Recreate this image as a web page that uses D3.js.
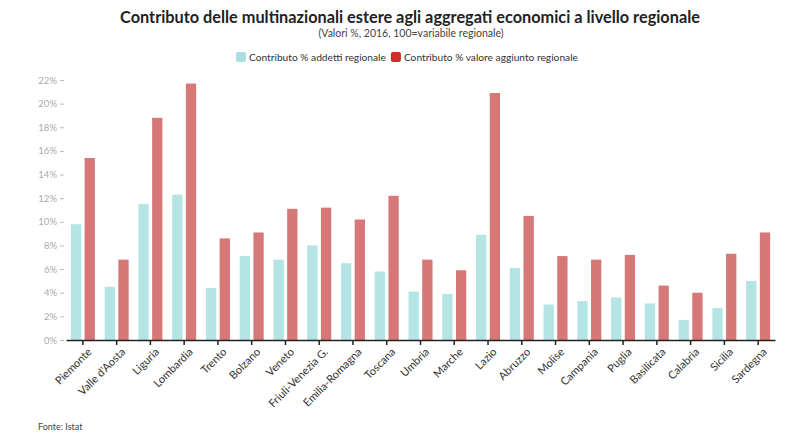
<!DOCTYPE html>
<html><head><meta charset="utf-8">
<script src="https://cdn.jsdelivr.net/npm/d3@7"></script>
<style>body{margin:0;background:#fff}svg{display:block;font-family:Lato,"Open Sans",sans-serif}</style>
</head><body><svg id="c" width="800" height="446"></svg>
<script>
const categories = ["Piemonte","Valle d'Aosta","Liguria","Lombardia","Trento","Bolzano","Veneto","Friuli-Venezia G.","Emilia-Romagna","Toscana","Umbria","Marche","Lazio","Abruzzo","Molise","Campania","Puglia","Basilicata","Calabria","Sicilia","Sardegna"];
const addetti = [9.8,4.5,11.5,12.3,4.4,7.1,6.8,8.0,6.5,5.8,4.1,3.9,8.9,6.1,3.0,3.3,3.6,3.1,1.7,2.7,5.0];
const valore = [15.4,6.8,18.8,21.7,8.6,9.1,11.1,11.2,10.2,12.2,6.8,5.9,20.9,10.5,7.1,6.8,7.2,4.6,4.0,7.3,9.1];
const seriesNames = ["Contributo % addetti regionale","Contributo % valore aggiunto regionale"];
const yTicks = [0,2,4,6,8,10,12,14,16,18,20,22];
const colors = ["#b4e4e4","#d57877"];
const legendColors = ["#a9dfe0","#c9302c"];

const svg = d3.select("#c");
const x = d3.scaleBand().domain(categories).range([66,775]).paddingInner(0).paddingOuter(0);
const x1 = d3.scaleBand().domain([0,1]).range([x.bandwidth()/2-12, x.bandwidth()/2+12]).paddingInner(0.25);
const y = d3.scaleLinear().domain([0,22]).range([340,80]);

// title
svg.append("text").attr("x",410).attr("y",23).attr("text-anchor","middle")
  .attr("font-size",16.3).attr("font-weight",700).attr("fill","#222")
  .text("Contributo delle multinazionali estere agli aggregati economici a livello regionale");
svg.append("text").attr("x",411).attr("y",37).attr("text-anchor","middle")
  .attr("font-size",10.5).attr("fill","#444").text("(Valori %, 2016, 100=variabile regionale)");

// legend
const leg = svg.append("g");
let lx = 236;
seriesNames.forEach((n,i)=>{
  leg.append("rect").attr("x",lx).attr("y",52).attr("width",10).attr("height",10).attr("rx",2).attr("fill",legendColors[i]);
  const t = leg.append("text").attr("x",lx+13).attr("y",61).attr("font-size",10.2).attr("fill","#333").text(n);
  lx += 13 + t.node().getComputedTextLength() + 5;
});

// bars
const g = svg.append("g");
categories.forEach((c,i)=>{
  [addetti[i],valore[i]].forEach((v,j)=>{
    g.append("rect").attr("x",x(c)+x1(j)).attr("width",x1.bandwidth())
      .attr("y",y(v)).attr("height",y(0)-y(v)).attr("fill",colors[j]);
  });
});

// y axis
const ya = svg.append("g").attr("transform","translate(66,0)")
  .call(d3.axisLeft(y).tickValues(yTicks).tickFormat(d=>d+"%").tickSize(4).tickPadding(3));
ya.select(".domain").remove();
ya.selectAll(".tick line").attr("stroke","#bbb").attr("transform","translate(-2,0)");
ya.selectAll(".tick text").attr("fill","#aaa").attr("font-size",9.5).attr("font-family","Lato,sans-serif").attr("dx",-2);

// x axis
const xa = svg.append("g").attr("transform","translate(0,340)")
  .call(d3.axisBottom(x).tickSize(5).tickSizeOuter(0));
xa.select(".domain").attr("stroke","#222").attr("stroke-width",1.5);
xa.selectAll(".tick line").attr("stroke","#222").attr("stroke-width",1.5);
xa.selectAll(".tick text").attr("font-size",11).attr("fill","#333").attr("font-family","Lato,sans-serif")
  .attr("text-anchor","end").attr("transform","rotate(-45)").attr("dx","-0.2em").attr("dy","0.6em").attr("y",9).attr("x",0);

svg.append("text").attr("x",38).attr("y",430).attr("font-size",9).attr("fill","#444").text("Fonte: Istat");
</script></body></html>
